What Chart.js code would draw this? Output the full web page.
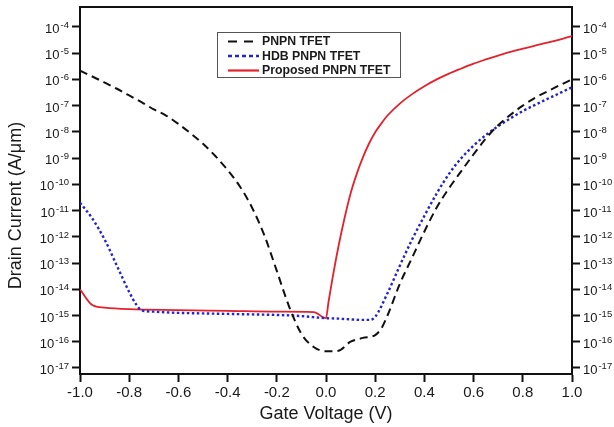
<!DOCTYPE html>
<html>
<head>
<meta charset="utf-8">
<script src="https://cdn.jsdelivr.net/npm/chart.js@4.4.1/dist/chart.umd.min.js"></script>
<style>
  html, body { margin: 0; padding: 0; background: #fff; }
</style>
</head>
<body>
<canvas id="idChart" width="614" height="427"></canvas>
<script>
// Gate voltage (V) and drain current (A/um) of the three devices
const pnpnV = [-1, -0.95, -0.9, -0.85, -0.8, -0.75, -0.7, -0.65, -0.6, -0.55, -0.5, -0.45, -0.4, -0.35, -0.3, -0.25, -0.2, -0.15, -0.1, -0.05, 0,
  0.05, 0.1, 0.15, 0.2, 0.225, 0.25, 0.3, 0.35, 0.4, 0.45, 0.5, 0.55, 0.6, 0.65, 0.7, 0.75, 0.8, 0.85, 0.9, 0.95, 1.0];
const pnpnI = [2.14e-6, 1.29e-6, 7.6e-7, 4.4e-7, 2.45e-7, 1.35e-7, 7.2e-8, 4.2e-8, 2.0e-8, 8.7e-9, 3.5e-9, 1.2e-9, 3.5e-10, 8.3e-11, 1.26e-11, 1.1e-12, 5.0e-14, 2.2e-15, 2.0e-16, 6.3e-17, 4.3e-17,
  4.5e-17, 1.0e-16, 1.4e-16, 1.8e-16, 3.2e-16, 1.0e-15, 1.6e-14, 1.6e-13, 1.6e-12, 1.3e-11, 7.1e-11, 3.2e-10, 1.4e-9, 5.6e-9, 1.8e-8, 4.5e-8, 1.0e-7, 2.0e-7, 3.5e-7, 6.0e-7, 1.0e-6];

const hdbV = [-1, -0.95, -0.9, -0.85, -0.8, -0.77, -0.75, -0.7, -0.6, -0.5, -0.4, -0.3, -0.2, -0.1, 0, 0.05, 0.1, 0.15, 0.18, 0.2,
  0.25, 0.3, 0.35, 0.4, 0.45, 0.5, 0.55, 0.6, 0.65, 0.7, 0.75, 0.8, 0.85, 0.9, 0.95, 1.0];
const hdbI = [2.0e-11, 5.0e-12, 7.9e-13, 7.9e-14, 7.9e-15, 2.5e-15, 1.6e-15, 1.4e-15, 1.26e-15, 1.2e-15, 1.15e-15, 1.1e-15, 1.05e-15, 9.5e-16, 7.9e-16, 7.6e-16, 7.1e-16, 6.8e-16, 6.8e-16, 8.9e-16,
  7.1e-15, 7.9e-14, 7.9e-13, 6.3e-12, 4.5e-11, 2.5e-10, 1.0e-9, 3.0e-9, 7.6e-9, 1.66e-8, 3.3e-8, 6.2e-8, 1.07e-7, 1.8e-7, 3.0e-7, 5.0e-7];

const propV = [-1, -0.95, -0.9, -0.8, -0.6, -0.4, -0.2, -0.05, 0, 0.01, 0.025, 0.05, 0.075, 0.1, 0.125, 0.15, 0.175, 0.2, 0.225,
  0.25, 0.3, 0.35, 0.4, 0.45, 0.5, 0.55, 0.6, 0.65, 0.7, 0.75, 0.8, 0.85, 0.9, 0.95, 1.0];
const propI = [1.0e-14, 2.5e-15, 2.0e-15, 1.74e-15, 1.6e-15, 1.5e-15, 1.4e-15, 1.35e-15, 7.9e-16, 3.2e-15, 2.2e-14, 4.0e-13, 5.0e-12, 4.5e-11, 2.5e-10, 1.06e-9, 3.6e-9, 9.7e-9, 2.1e-8,
  4.2e-8, 1.2e-7, 2.75e-7, 5.5e-7, 1.0e-6, 1.66e-6, 2.6e-6, 4.0e-6, 5.75e-6, 8.1e-6, 1.12e-5, 1.48e-5, 1.95e-5, 2.5e-5, 3.3e-5, 4.5e-5];

const seriesNames = ['PNPN TFET', 'HDB PNPN TFET', 'Proposed PNPN TFET'];
const yExponents = [-17, -16, -15, -14, -13, -12, -11, -10, -9, -8, -7, -6, -5, -4];
const xTickStep = 0.2;

const FONT = '"Liberation Sans", Arial, Helvetica, sans-serif';
const INK = '#1a1a1a';

function pairs(vs, is) {
  return vs.map((v, i) => ({ x: v, y: is[i] }));
}

// draw "10" with a raised exponent
function drawPow(ctx, x, y, exp, align) {
  const base = '10', sup = String(exp);
  ctx.font = '13px ' + FONT;
  const bw = ctx.measureText(base).width;
  ctx.font = '9.5px ' + FONT;
  const sw = ctx.measureText(sup).width;
  const left = align === 'right' ? x - bw - sw - 1 : x;
  ctx.textAlign = 'left';
  ctx.textBaseline = 'alphabetic';
  ctx.font = '13px ' + FONT;
  ctx.fillText(base, left, y + 6);
  ctx.font = '9.5px ' + FONT;
  ctx.fillText(sup, left + bw + 1, y + 1);
}

const powerLabels = {
  id: 'powerLabels',
  afterDraw(chart) {
    const ctx = chart.ctx;
    ctx.save();
    ctx.fillStyle = INK;
    ['y', 'y2'].forEach(id => {
      const sc = chart.scales[id];
      sc.ticks.forEach(t => {
        const py = sc.getPixelForValue(t.value);
        const exp = Math.round(Math.log10(t.value));
        if (id === 'y') drawPow(ctx, sc.right - 11, py, exp, 'right');
        else drawPow(ctx, sc.left + 11, py, exp, 'left');
      });
    });

    // rotated y title
    const area = chart.chartArea;
    ctx.save();
    ctx.translate(16, (area.top + area.bottom) / 2 + 15);
    ctx.rotate(-Math.PI / 2);
    ctx.font = '18px ' + FONT;
    ctx.textAlign = 'center';
    ctx.textBaseline = 'middle';
    ctx.fillText('Drain Current (A/\u03bcm)', 0, 0);
    ctx.restore();

    // top edge of the frame
    ctx.strokeStyle = '#111';
    ctx.lineWidth = 2;
    ctx.beginPath();
    ctx.moveTo(area.left - 1, area.top);
    ctx.lineTo(area.right + 1, area.top);
    ctx.stroke();
    ctx.restore();
  }
};

// boxed legend inside the plot
const boxLegend = {
  id: 'boxLegend',
  afterDraw(chart) {
    const ctx = chart.ctx;
    const area = chart.chartArea;
    const bx = area.left + 137.5, by = area.top + 25.5;
    ctx.save();
    ctx.strokeStyle = '#555';
    ctx.lineWidth = 1;
    ctx.strokeRect(bx, by, 183, 45);
    const dashes = [[9, 7], [4, 3], []];
    chart.data.datasets.forEach((ds, i) => {
      const y = by + 9 + i * 14.5;
      ctx.beginPath();
      ctx.setLineDash(dashes[i]);
      ctx.strokeStyle = ds.borderColor;
      ctx.lineWidth = i === 1 ? 2.4 : 2.2;
      ctx.moveTo(bx + 10.5, y);
      ctx.lineTo(bx + 41.5, y);
      ctx.stroke();
      ctx.setLineDash([]);
      ctx.fillStyle = INK;
      ctx.font = 'bold 12.3px ' + FONT;
      ctx.textAlign = 'left';
      ctx.textBaseline = 'middle';
      ctx.fillText(ds.label, bx + 44.5, y + 0.5);
    });
    ctx.restore();
  }
};

function decadeTicks(scale) {
  scale.ticks = yExponents.map(e => ({ value: Math.pow(10, e) }));
}

const axisGrid = { drawOnChartArea: false, drawTicks: true, tickLength: 8, tickWidth: 2, tickColor: '#111' };
const axisBorder = { display: true, color: '#111', width: 2 };
const yMin = Math.pow(10, -17.23);
const yMax = Math.pow(10, -3.24);

new Chart(document.getElementById('idChart'), {
  type: 'line',
  data: {
    datasets: [
      { label: seriesNames[0], data: pairs(pnpnV, pnpnI), borderColor: '#111111', borderWidth: 2, borderDash: [8, 5],
        pointRadius: 0, cubicInterpolationMode: 'monotone', fill: false },
      { label: seriesNames[1], data: pairs(hdbV, hdbI), borderColor: '#2424c8', borderWidth: 2.4, borderDash: [2.5, 2.5],
        pointRadius: 0, cubicInterpolationMode: 'monotone', fill: false },
      { label: seriesNames[2], data: pairs(propV, propI), borderColor: '#e3222b', borderWidth: 1.8,
        pointRadius: 0, cubicInterpolationMode: 'monotone', fill: false }
    ]
  },
  options: {
    responsive: false,
    animation: false,
    devicePixelRatio: 1,
    layout: { padding: { top: 7, left: 0, right: 0, bottom: 0 } },
    plugins: { legend: { display: false }, tooltip: { enabled: false } },
    scales: {
      x: {
        type: 'linear',
        position: 'bottom',
        min: -1,
        max: 1,
        grid: axisGrid,
        border: axisBorder,
        ticks: {
          stepSize: xTickStep,
          padding: 2,
          color: INK,
          font: { family: FONT, size: 15 },
          callback: function(value) { return Number(value).toFixed(1); }
        },
        title: {
          display: true,
          text: 'Gate Voltage (V)',
          color: INK,
          font: { family: FONT, size: 18 },
          padding: { top: 0, bottom: 2 }
        },
        afterFit: function(scale) { scale.height = 53; }
      },
      y: {
        type: 'logarithmic',
        position: 'left',
        min: yMin,
        max: yMax,
        bounds: 'data',
        grid: axisGrid,
        border: axisBorder,
        ticks: { display: false },
        afterBuildTicks: decadeTicks,
        afterFit: function(scale) { scale.width = 80; }
      },
      y2: {
        type: 'logarithmic',
        position: 'right',
        min: yMin,
        max: yMax,
        bounds: 'data',
        grid: axisGrid,
        border: axisBorder,
        ticks: { display: false },
        afterBuildTicks: decadeTicks,
        afterFit: function(scale) { scale.width = 42; }
      }
    }
  },
  plugins: [powerLabels, boxLegend]
});
</script>
</body>
</html>
